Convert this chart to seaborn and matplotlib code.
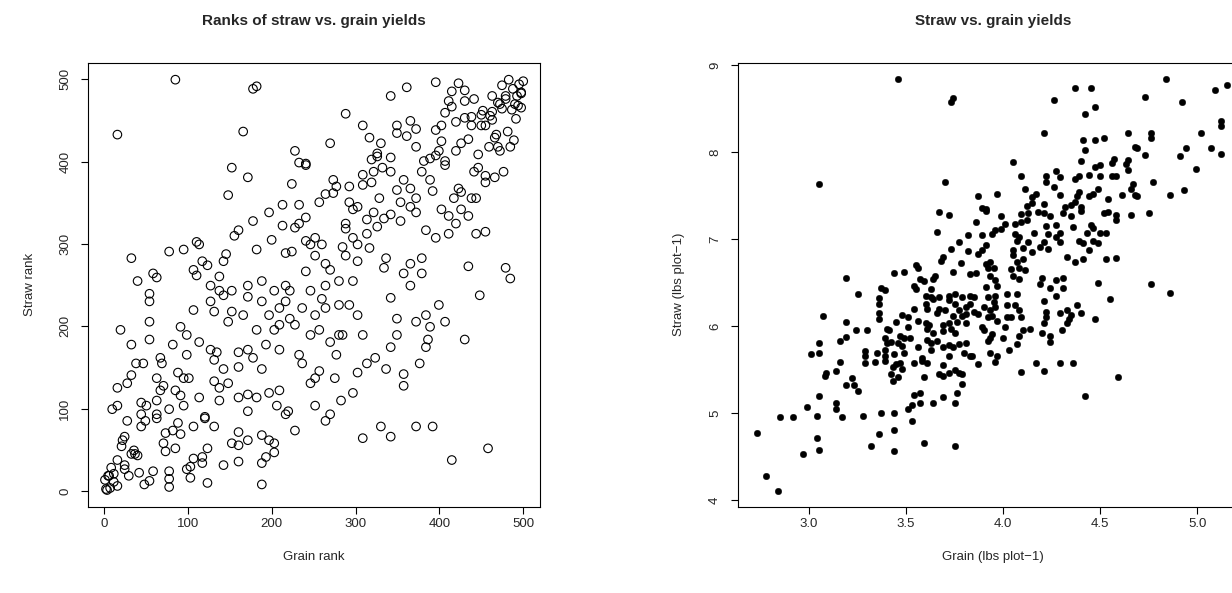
import matplotlib
matplotlib.use("Agg")
import matplotlib.pyplot as plt
import seaborn as sns
import pandas as pd

sns.set_theme(style="white")
plt.rcParams['font.family'] = ['Liberation Sans', 'DejaVu Sans']

# grain / straw yields (lbs per plot)
grain = [
    3.05, 3.46, 3.74, 3.73, 3.70,
    4.37, 4.45, 4.26, 4.47, 4.42, 4.21, 4.41, 4.47, 4.42, 4.40, 4.05, 4.50, 4.47, 4.27, 4.09,
    4.22, 4.29, 4.39, 4.37, 4.44, 4.22, 4.26, 4.11, 4.50, 4.49, 4.39, 4.44, 4.46, 3.87, 3.97,
    4.17, 4.15, 4.29, 4.38, 4.37, 4.12, 4.21, 4.15, 3.89, 3.91, 4.32, 4.35, 4.40,
    4.84, 5.15, 5.09, 4.73, 4.92, 5.12, 5.12, 4.52, 4.64, 4.76, 4.76, 5.02, 4.68, 4.69, 4.94,
    5.07, 4.73, 4.91, 5.12, 4.57, 4.56, 4.64, 4.63, 4.64, 4.99, 4.56, 4.58, 4.77, 4.67, 4.66,
    4.61, 4.68, 4.69, 4.54, 4.86, 4.93,
    3.07, 3.16, 3.05, 3.01, 3.05,
    3.67, 3.72, 3.66, 3.82, 3.77, 3.73, 3.82, 3.69, 3.68, 3.78, 3.55, 3.56, 3.44, 3.49, 3.74,
    3.83, 3.19, 3.57, 3.59, 3.65, 3.64, 3.54, 3.55, 3.37, 3.39, 3.63, 3.25, 3.60, 3.63, 3.64,
    3.67, 3.72, 3.75, 3.72, 3.79, 3.83, 3.36, 3.36, 3.60, 3.75, 3.83, 3.54, 3.61, 3.67, 3.70,
    3.77, 3.81, 3.66, 3.36, 3.36, 3.48, 3.51, 3.74, 3.79, 3.81, 3.56, 3.60, 3.62, 3.69, 3.72,
    3.76, 3.81, 3.19, 3.45, 3.51, 3.40, 3.41, 3.24, 3.30, 3.19, 3.61, 3.64, 3.69, 3.73, 3.75,
    3.39, 3.47, 3.49, 3.52, 3.40, 3.42, 3.46, 3.48, 3.61, 3.63, 3.66, 3.69, 3.72, 3.77, 3.81,
    3.56, 3.39, 3.29, 3.35, 3.44, 3.49, 3.63, 3.74, 3.72, 3.80, 3.29, 3.39, 3.58, 3.83,
    3.91, 3.99, 4.09, 4.13, 4.18, 4.21, 4.24, 4.31, 4.40,
    3.86, 4.01, 4.06, 4.09, 4.12, 4.22, 4.27, 4.35, 4.36, 4.45, 4.46,
    3.89, 3.94, 3.96, 3.99, 4.06, 4.08, 4.07, 4.16, 4.23, 4.29, 4.43, 4.50,
    4.27, 4.29, 4.21, 4.13, 4.10, 4.39, 4.46, 4.49, 4.41, 4.44, 4.19, 4.23,
    3.91, 3.89, 3.87, 4.05, 4.15, 4.05, 4.10, 4.07, 3.91, 3.93, 3.95, 3.92,
    4.33, 4.37, 4.41, 4.04, 4.08, 4.11, 3.86, 3.93, 4.05, 4.08, 3.96,
    4.20, 4.19, 4.27, 4.31, 4.24, 4.31, 4.49, 3.91, 3.97, 4.02, 4.07,
    3.85, 3.92, 3.96, 4.27, 4.21, 3.90, 3.95, 3.96, 4.02, 4.06, 4.08,
    3.85, 3.87, 3.93, 3.94, 3.92, 4.02, 4.04, 4.09, 3.97,
    4.22, 4.22, 4.21, 4.29, 4.33, 4.35, 4.38, 4.40, 4.34, 4.33, 4.47,
    3.89, 3.90, 4.01, 4.10, 4.14, 3.94, 3.93, 3.92, 4.00, 4.08,
    4.20, 4.24, 4.24, 4.30, 4.07, 4.03, 3.93, 3.97, 3.84,
    4.52, 4.54, 4.58, 4.58, 4.66, 4.75, 4.53, 4.53, 4.58, 4.76, 4.86, 4.55,
    3.16, 3.09, 3.08, 3.14, 3.05, 3.14, 3.14, 2.99, 2.85, 2.92, 3.04, 3.17, 2.73, 3.04, 3.05,
    2.97, 2.78, 2.84,
    3.29, 3.34, 3.39, 3.43, 3.45, 3.47, 3.48, 3.42, 3.43, 3.46, 3.54, 3.58, 3.61, 3.69, 3.59,
    3.67, 3.69, 3.72, 3.75, 3.77, 3.79, 3.79, 3.22, 3.23, 3.19, 3.25, 3.54, 3.57, 3.76, 3.69,
    3.53, 3.51, 3.57, 3.64, 3.75, 3.28, 3.37, 3.44, 3.53, 3.36, 3.44, 3.32, 3.44, 3.59, 3.75,
    3.87, 3.96, 4.09, 4.17, 4.21, 4.29, 4.36, 4.42,
    4.59,
]
straw = [
    7.63, 8.84, 8.62, 8.57, 7.66,
    8.74, 8.73, 8.60, 8.52, 8.44, 8.22, 8.14, 8.14, 8.02, 7.90, 7.88, 7.85, 7.83, 7.78, 7.72,
    7.72, 7.71, 7.72, 7.69, 7.74, 7.65, 7.60, 7.58, 7.72, 7.57, 7.54, 7.49, 7.52, 7.49, 7.52,
    7.52, 7.48, 7.51, 7.49, 7.42, 7.38, 7.40, 7.41, 7.36, 7.34, 7.37, 7.39, 7.37,
    8.84, 8.77, 8.71, 8.63, 8.57, 8.36, 8.30, 8.16, 8.22, 8.22, 8.16, 8.22, 8.06, 8.05, 8.05,
    8.04, 7.97, 7.95, 7.98, 7.92, 7.87, 7.91, 7.86, 7.79, 7.81, 7.72, 7.72, 7.66, 7.63, 7.58,
    7.51, 7.51, 7.49, 7.46, 7.51, 7.56,
    6.12, 5.83, 5.81, 5.68, 5.69,
    7.31, 7.27, 7.08, 7.04, 6.97, 6.88, 6.86, 6.79, 6.75, 6.72, 6.70, 6.67, 6.61, 6.62, 6.62,
    6.60, 6.55, 6.54, 6.52, 6.58, 6.54, 6.46, 6.43, 6.44, 6.41, 6.42, 6.37, 6.35, 6.33, 6.31,
    6.33, 6.35, 6.37, 6.30, 6.33, 6.35, 6.32, 6.25, 6.25, 6.25, 6.25, 6.20, 6.19, 6.19, 6.18,
    6.18, 6.22, 6.15, 6.15, 6.08, 6.13, 6.10, 6.12, 6.12, 6.14, 6.06, 6.03, 6.01, 6.01, 6.03,
    6.05, 6.03, 6.05, 6.05, 5.99, 5.97, 5.95, 5.95, 5.95, 5.87, 5.96, 5.92, 5.94, 5.97, 5.92,
    5.86, 5.89, 5.86, 5.86, 5.80, 5.82, 5.80, 5.77, 5.84, 5.81, 5.83, 5.76, 5.78, 5.79, 5.80,
    5.76, 5.72, 5.71, 5.69, 5.68, 5.69, 5.72, 5.76, 5.66, 5.69, 5.65, 5.65, 5.63, 5.65,
    7.32, 7.26, 7.29, 7.30, 7.31, 7.30, 7.26, 7.30, 7.32,
    7.20, 7.17, 7.17, 7.19, 7.22, 7.15, 7.16, 7.26, 7.14, 7.16, 7.13,
    7.04, 7.06, 7.10, 7.12, 7.06, 7.02, 6.98, 7.07, 7.06, 7.07, 7.07, 7.07,
    7.02, 6.97, 6.96, 6.97, 6.90, 6.98, 6.98, 6.95, 6.95, 6.87, 6.91, 6.88,
    6.93, 6.87, 6.83, 6.87, 6.85, 6.82, 6.77, 6.73, 6.71, 6.73, 6.67, 6.67,
    6.79, 6.73, 6.77, 6.65, 6.67, 6.64, 6.61, 6.57, 6.57, 6.54, 6.53,
    6.55, 6.48, 6.53, 6.55, 6.44, 6.44, 6.49, 6.45, 6.46, 6.37, 6.37,
    6.33, 6.33, 6.35, 6.35, 6.29, 6.22, 6.27, 6.22, 6.24, 6.24, 6.18,
    6.16, 6.14, 6.18, 6.12, 6.10, 6.10, 6.10, 6.10, 6.06,
    6.16, 6.10, 6.04, 6.15, 6.18, 6.13, 6.24, 6.15, 6.08, 6.04, 6.08,
    5.99, 5.95, 5.99, 5.95, 5.97, 5.91, 5.86, 5.83, 5.86, 5.89,
    5.92, 5.88, 5.82, 5.95, 5.79, 5.72, 5.69, 5.65, 5.66,
    7.30, 7.31, 7.28, 7.22, 7.27, 7.30, 7.07, 6.77, 6.78, 6.48, 6.38, 6.31,
    5.59, 5.46, 5.42, 5.48, 5.20, 5.11, 5.05, 5.07, 4.95, 4.95, 4.96, 4.95, 4.77, 4.71, 4.58,
    4.53, 4.28, 4.10,
    5.57, 5.59, 5.60, 5.53, 5.56, 5.58, 5.51, 5.45, 5.37, 5.41, 5.57, 5.60, 5.57, 5.55, 5.41,
    5.45, 5.43, 5.46, 5.49, 5.46, 5.45, 5.33, 5.40, 5.32, 5.32, 5.25, 5.21, 5.23, 5.23, 5.18,
    5.09, 5.05, 5.12, 5.11, 5.12, 4.97, 5.00, 5.00, 4.91, 4.76, 4.81, 4.62, 4.56, 4.66, 4.62,
    5.56, 5.59, 5.47, 5.57, 5.48, 5.57, 5.57, 5.20,
    5.41,
]
n_plots = 500

yields = pd.DataFrame({"grain": grain, "straw": straw})
ranks = yields.rank(pct=True) * n_plots

W, H = 1232, 593
fig = plt.figure(figsize=(W / 100, H / 100), dpi=100)
ax1 = fig.add_axes([88 / W, 86.3 / H, 452 / W, 444 / H])
ax2 = fig.add_axes([737.7 / W, 86.3 / H, 510.3 / W, 444 / H])

sns.scatterplot(data=ranks, x="grain", y="straw", ax=ax1, s=38,
                facecolor="none", edgecolor="black", linewidth=0.8)
sns.scatterplot(data=yields, x="grain", y="straw", ax=ax2, s=22,
                color="black", edgecolor="black", linewidth=0.3)

ax1.set_xlim(-19, 520)
ax1.set_ylim(-19, 520)
ax1.set_xticks([0, 100, 200, 300, 400, 500])
ax1.set_yticks([0, 100, 200, 300, 400, 500])
ax2.set_xlim(2.633, 5.26)
ax2.set_ylim(3.923, 9.026)
ax2.set_xticks([3.0, 3.5, 4.0, 4.5, 5.0])
ax2.set_xticklabels(["3.0", "3.5", "4.0", "4.5", "5.0"])
ax2.set_yticks([4, 5, 6, 7, 8, 9])

ax1.set_title("Ranks of straw vs. grain yields", fontsize=11, fontweight="bold", pad=27)
ax2.set_title("Straw vs. grain yields", fontsize=11, fontweight="bold", pad=27)
ax1.set_xlabel("Grain rank", fontsize=9.5, labelpad=15)
ax1.set_ylabel("Straw rank", fontsize=9.5, labelpad=17)
ax2.set_xlabel("Grain (lbs plot\u22121)", fontsize=9.5, labelpad=15)
ax2.set_ylabel("Straw (lbs plot\u22121)", fontsize=9.5, labelpad=17)

for ax in (ax1, ax2):
    ax.grid(False)
    for sp in ax.spines.values():
        sp.set_color("black")
        sp.set_linewidth(0.8)
    ax.tick_params(direction="out", length=5, width=0.8, color="black",
                   labelsize=9.5, bottom=True, left=True)
    ax.tick_params(axis="x", pad=3)
    ax.tick_params(axis="y", labelrotation=90, pad=7)
    plt.setp(ax.get_yticklabels(), va="center")

fig.savefig("out.png", dpi=100)
